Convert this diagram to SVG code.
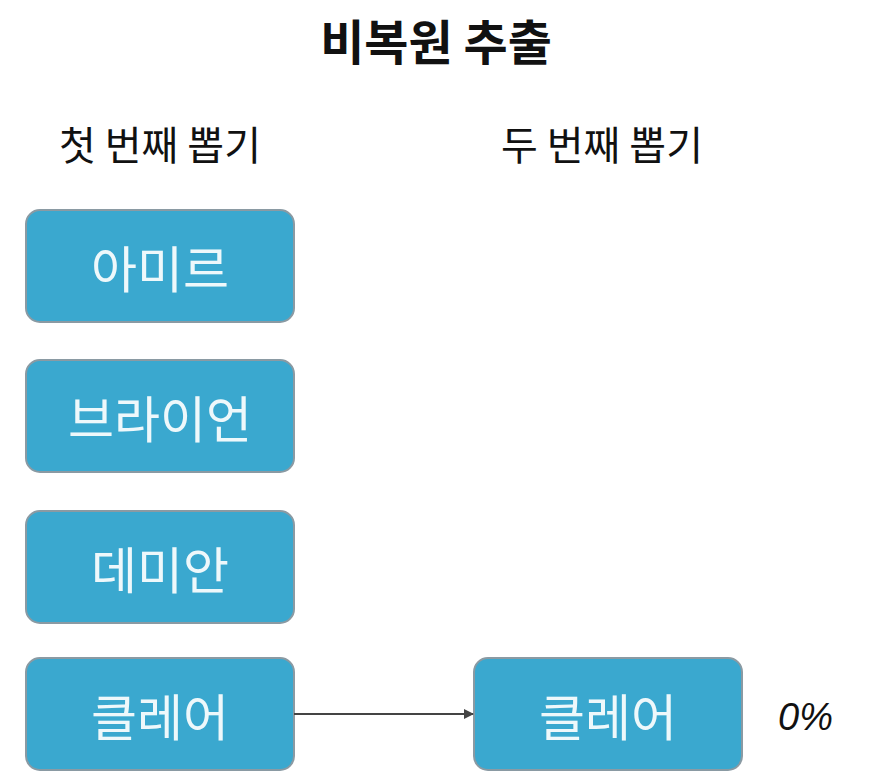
<svg xmlns="http://www.w3.org/2000/svg" width="872" height="784" viewBox="0 0 872 784">
<style>
text{font-family:"Noto Sans CJK KR","Noto Sans",sans-serif}
.box{fill:#3aa8cf;stroke:#8a9aa3;stroke-width:2}
.lbl{fill:#eef8fb;font-size:50px;text-anchor:middle;dominant-baseline:central}
.hdr{fill:#111;font-size:40px;text-anchor:middle}
</style>
<defs><marker id="ar" markerWidth="10" markerHeight="10" refX="9" refY="5" orient="auto" markerUnits="userSpaceOnUse" viewBox="0 0 10 10"><path d="M0,0L10,5L0,10z" fill="#444"/></marker></defs>
<rect width="872" height="784" fill="#fff"/>
<text x="436" y="60" font-size="48" font-weight="bold" text-anchor="middle" fill="#111">비복원 추출</text>
<text class="hdr" x="160" y="160">첫 번째 뽑기</text>
<text class="hdr" x="602" y="160">두 번째 뽑기</text>
<g id="n1"><rect class="box" x="26" y="210" width="268" height="112" rx="14"/><text class="lbl" x="160" y="266">아미르</text></g>
<g id="n2"><rect class="box" x="26" y="360" width="268" height="112" rx="14"/><text class="lbl" x="160" y="416">브라이언</text></g>
<g id="n3"><rect class="box" x="26" y="511" width="268" height="112" rx="14"/><text class="lbl" x="160" y="567">데미안</text></g>
<g id="n4"><rect class="box" x="26" y="658" width="268" height="112" rx="14"/><text class="lbl" x="160" y="714">클레어</text></g>
<g id="n5"><rect class="box" x="474" y="658" width="268" height="112" rx="14"/><text class="lbl" x="608" y="714">클레어</text></g>
<g id="connectors"><line x1="294" y1="714" x2="473" y2="714" stroke="#444" stroke-width="2" marker-end="url(#ar)"/></g>
<text x="778" y="730" font-size="38" font-style="italic" fill="#111" style="font-family:'Liberation Sans',sans-serif">0%</text>
</svg>
